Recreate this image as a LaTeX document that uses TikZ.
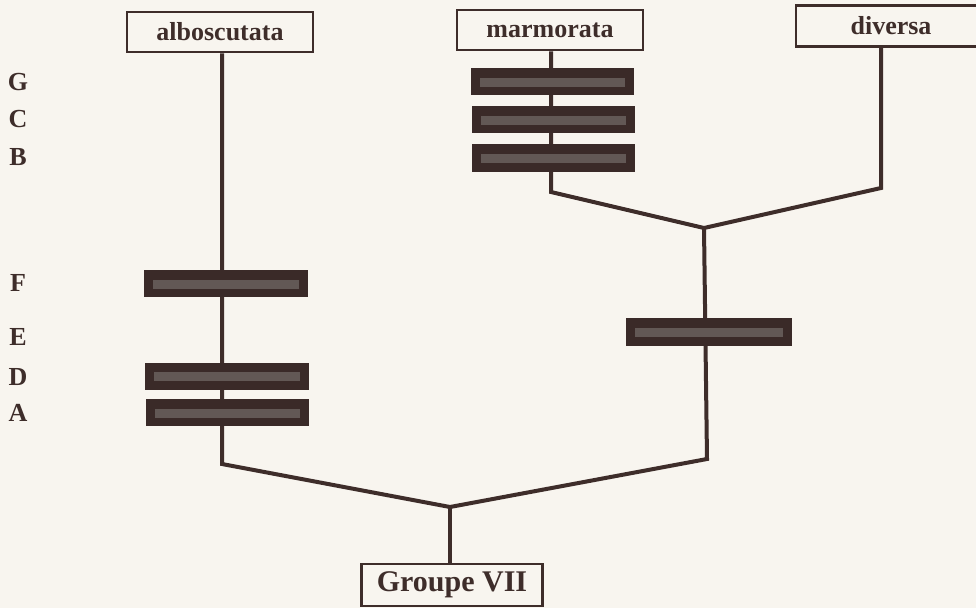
\documentclass[tikz,border=0pt]{standalone}
\usepackage{fontspec}
\setmainfont{Liberation Serif}
\usepackage{xcolor}
\definecolor{paper}{RGB}{248,245,239}
\definecolor{ink}{RGB}{62,45,42}
\definecolor{barfill}{RGB}{58,42,40}
\definecolor{barmid}{RGB}{98,88,85}

\begin{document}
\begin{tikzpicture}[x=1pt,y=-1pt,
    taxon/.style={draw=ink,line width=2.8pt,fill=paper,text=ink,inner sep=0pt,
      minimum height=40pt,font=\bfseries\fontsize{26}{28}\selectfont},
    charbox/.style={fill=barfill,inner sep=0pt,minimum width=164pt,minimum height=27pt,
      path picture={\fill[barmid] ([xshift=9pt,yshift=-5pt]path picture bounding box.west)
        rectangle ([xshift=-9pt,yshift=4pt]path picture bounding box.east);}},
    rowlab/.style={text=ink,font=\bfseries\fontsize{26}{28}\selectfont},
    branch/.style={draw=ink,line width=4pt,line join=miter}]

        % Page
        \clip (0,0) rectangle (976,608);
        \fill[paper] (0,0) rectangle (976,608);

        % Taxa
        \node[taxon,minimum width=186pt] (albo) at (220,32) {alboscutata};
        \node[taxon,minimum width=186pt] (marm) at (550,30) {marmorata};
        \node[taxon,minimum width=190pt,minimum height=41pt] (div) at (891,26) {diversa};
        \node[taxon,minimum width=181pt,minimum height=42pt,
              font=\bfseries\fontsize{30}{32}\selectfont] (grp) at (452,585) {Groupe VII};

        % Corners and forks
        \coordinate (k1) at (222,464);
        \coordinate (k2) at (551,192);
        \coordinate (k3) at (881,188);
        \coordinate (k4) at (707,459);
        \coordinate (j1) at (704,228);
        \coordinate (j2) at (450,507);

        % Draw branches
        \draw[branch] (albo.south -| k1) -- (k1) -- (j2);
        \draw[branch] (marm.south -| k2) -- (k2) -- (j1);
        \draw[branch] (div.south -| k3) -- (k3) -- (j1);
        \draw[branch] (j1) -- (k4) -- (j2);
        \draw[branch] (j2) -- (grp.north -| j2);

        % Characters
        \node[charbox,minimum width=163pt] (barG) at (552.5,81.5) {};
        \node[charbox,minimum width=163pt] (barC) at (553.5,119.5) {};
        \node[charbox,minimum width=163pt,minimum height=28pt] (barB) at (553.5,158) {};
        \node[charbox] (barF) at (226,283.5) {};
        \node[charbox,minimum width=166pt,minimum height=28pt] (barE) at (709,332) {};
        \node[charbox] (barD) at (227,376) {};
        \node[charbox,minimum width=163pt] (barA) at (227.5,412.5) {};

        % Row labels
        \node[rowlab] (labG) at (18,82) {G};
        \node[rowlab] (labC) at (18,119) {C};
        \node[rowlab] (labB) at (18,157) {B};
        \node[rowlab] (labF) at (18,283) {F};
        \node[rowlab] (labE) at (18,337) {E};
        \node[rowlab] (labD) at (18,377) {D};
        \node[rowlab] (labA) at (18,413) {A};
    \end{tikzpicture}
\end{document}
